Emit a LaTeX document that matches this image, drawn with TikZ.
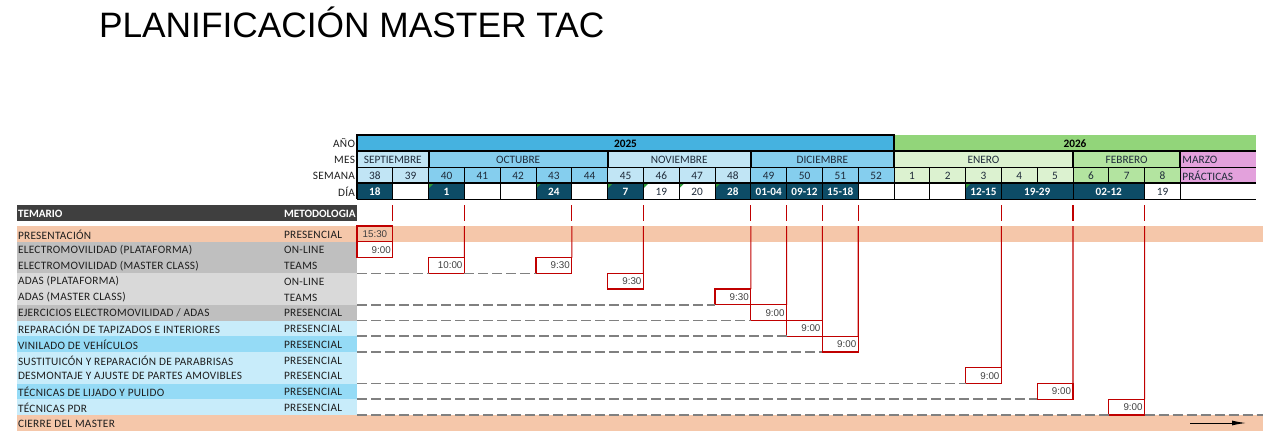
\documentclass[tikz,border=0pt]{standalone}
\usepackage{fontspec}
\setmainfont{Carlito}
\newfontfamily\arialf{Liberation Sans}
\newfontfamily\tabf[LetterSpace=2.5]{Carlito}
\usetikzlibrary{arrows.meta}
\definecolor{peach}{HTML}{F5C7AA}
\definecolor{grayA}{HTML}{BFBFBF}
\definecolor{grayB}{HTML}{D9D9D9}
\definecolor{rlblue}{HTML}{C8ECFA}
\definecolor{rmblue}{HTML}{95DBF6}
\definecolor{hdr}{HTML}{3F3F3F}
\definecolor{cA}{HTML}{45B2E0}
\definecolor{cB}{HTML}{92D57A}
\definecolor{lblue}{HTML}{C1E5F5}
\definecolor{mblue}{HTML}{85CEEE}
\definecolor{vlgreen}{HTML}{DCF2D0}
\definecolor{lgreen}{HTML}{B3E4A0}
\definecolor{pinkm}{HTML}{E3A1DC}
\definecolor{teal}{HTML}{0D4C66}
\definecolor{redc}{HTML}{C00000}
\definecolor{gline}{HTML}{808080}
\definecolor{txt}{HTML}{1E1E1E}
\definecolor{mtxt}{HTML}{1F2B3A}
\definecolor{exgreen}{HTML}{2E9A3A}
\def\gx{357}\def\cw{35.8}\def\ry{226}\def\rh{15.75}
\begin{document}
\begin{tikzpicture}[x=1pt,y=-1pt,
  every node/.style={inner sep=0pt,outer sep=0pt},
  lbl/.style={font=\tabf\fontsize{11.3}{12}\selectfont,text=txt},
  hlbl/.style={font=\fontsize{11.3}{12}\selectfont,text=mtxt},
  hbold/.style={font=\bfseries\fontsize{11.3}{12}\selectfont,text=black},
  wbold/.style={font=\bfseries\fontsize{11.2}{12}\selectfont,text=white},
  tbox/.style={draw=redc,line width=1.1pt,minimum width=35.8pt,minimum height=15.75pt,
    text width=31.8pt,align=right,inner xsep=2pt,inner ysep=0pt,anchor=north west,
    font=\arialf\fontsize{9.8}{11}\selectfont,text=hdr},
  redl/.style={draw=redc,line width=1.1pt},
  gdash/.style={draw=gline,line width=1.6pt,dash pattern=on 10pt off 4pt},
  gdashthin/.style={draw=gline,line width=1pt,dash pattern=on 10pt off 4pt},
  thinl/.style={draw=black,line width=0.7pt},
  midl/.style={draw=black,line width=1.2pt},
  thickl/.style={draw=black,line width=2pt}]
\useasboundingbox (0,0) rectangle (1280,444);

% title
\node[anchor=base west,font=\arialf\fontsize{35.3}{40}\selectfont] (title) at (99,38) {PLANIFICACIÓN MASTER TAC};

% ---------- header grid ----------
\fill[cA] (\gx,135) rectangle (894,151);
\fill[cB] (894,135) rectangle (1256,151);
\node[hbold] (y2025) at ({(357+894)/2},143.5) {2025};
\node[hbold] (y2026) at ({(894+1256)/2},143.5) {2026};

\foreach \a/\b/\col/\name [count=\i] in {0/2/lblue/SEPTIEMBRE,2/7/mblue/OCTUBRE,7/11/lblue/NOVIEMBRE,11/15/mblue/DICIEMBRE,15/20/vlgreen/ENERO,20/23/lgreen/FEBRERO}{
  \fill[\col] ({\gx+\cw*\a},151) rectangle ({\gx+\cw*\b},183);
  \node[hlbl] (mes\i) at ({\gx+\cw*(\a+\b)/2},159.5) {\name};
}
\fill[pinkm] ({\gx+\cw*23},151) rectangle (1256,183);
\node[hlbl,anchor=west] (marzo) at ({\gx+\cw*23+2},159.5) {MARZO};
\node[hlbl,anchor=west] (prac) at ({\gx+\cw*23+2},175.5) {PRÁCTICAS};

\foreach \w [count=\i from 0] in {38,39,40,41,42,43,44,45,46,47,48,49,50,51,52,1,2,3,4,5,6,7,8}{
  \node[hlbl] (sem\i) at ({\gx+\cw*(\i+0.5)},175.5) {\w};
}

% DÍA row
\foreach \k/\s/\t in {0/1/18,2/1/1,5/1/24,7/1/7,10/1/28,11/1/01-04,12/1/09-12,13/1/15-18,17/1/12-15,18/2/19-29,20/2/02-12}{
  \fill[teal] ({\gx+\cw*\k},183) rectangle ({\gx+\cw*(\k+\s)},199);
  \node[wbold] (dia\k) at ({\gx+\cw*(\k+\s/2)},191.5) {\t};
}
\foreach \k/\t in {8/19,9/20,22/19}{
  \node[hlbl] (diaw\k) at ({\gx+\cw*(\k+0.5)},191.5) {\t};
}
\foreach \k in {2,5,7,8,9,10,17}{
  \fill[exgreen] ({\gx+\cw*\k+0.5},184) -- ++(4,0) -- ++(-4,4) -- cycle;
}

% grid lines
\draw[thinl] (\gx,167) -- (1256,167);
\draw[thinl] (\gx,199) -- (1256,199);
\draw[midl] (\gx,151) -- (1256,151);
\draw[thickl] (\gx,183) -- (1256,183);
\foreach \i in {1,...,23}{
  \draw[thinl] ({\gx+\cw*\i},167) -- ({\gx+\cw*\i},183);
}
\foreach \i in {1,...,18,20,22,23}{
  \draw[thinl] ({\gx+\cw*\i},183) -- ({\gx+\cw*\i},199);
}
\foreach \i in {2,7,11,20,23}{
  \draw[thickl] ({\gx+\cw*\i},151) -- ({\gx+\cw*\i},167);
}
\draw[thickl] (\gx,199) -- (\gx,135) -- (894,135) -- (894,167);

% header labels
\node[lbl,anchor=east] (lano) at (355,143.5) {AÑO};
\node[lbl,anchor=east] (lmes) at (355,159.5) {MES};
\node[lbl,anchor=east] (lsem) at (355,175.5) {SEMANA};
\node[lbl,anchor=east] (ldia) at (355,191.5) {DÍA};

% ---------- table ----------
\fill[hdr] (17,205) rectangle (357,221);
\node[wbold,anchor=west] (htem) at (18,213.5) {TEMARIO};
\node[wbold,anchor=west] (hmet) at (284,213.5) {METODOLOGIA};

\fill[peach] (17,{\ry}) rectangle (1263,{\ry+\rh});
\fill[grayA] (17,{\ry+\rh}) rectangle (357,{\ry+3*\rh});
\fill[grayB] (17,{\ry+3*\rh}) rectangle (357,{\ry+5*\rh});
\fill[grayA] (17,{\ry+5*\rh}) rectangle (357,{\ry+6*\rh});
\fill[rlblue] (17,{\ry+6*\rh}) rectangle (357,{\ry+7*\rh});
\fill[rmblue] (17,{\ry+7*\rh}) rectangle (357,{\ry+8*\rh});
\fill[rlblue] (17,{\ry+8*\rh}) rectangle (357,{\ry+10*\rh});
\fill[rmblue] (17,{\ry+10*\rh}) rectangle (357,{\ry+11*\rh});
\fill[rlblue] (17,{\ry+11*\rh}) rectangle (357,{\ry+12*\rh});
\fill[peach] (17,{\ry+12*\rh}) rectangle (1263,{\ry+13*\rh});

\node[lbl,anchor=west] (t0) at (18,{\ry+0.5*\rh+0.5}) {PRESENTACIÓN};
\node[lbl,anchor=west] (t1) at (18,{\ry+1.5*\rh+0.5}) {ELECTROMOVILIDAD (PLATAFORMA)};
\node[lbl,anchor=west] (t2) at (18,{\ry+2.5*\rh+0.5}) {ELECTROMOVILIDAD (MASTER CLASS)};
\node[lbl,anchor=west] (t3) at (18,{\ry+3.5*\rh+0.5}) {ADAS (PLATAFORMA)};
\node[lbl,anchor=west] (t4) at (18,{\ry+4.5*\rh+0.5}) {ADAS (MASTER CLASS)};
\node[lbl,anchor=west] (t5) at (18,{\ry+5.5*\rh+0.5}) {EJERCICIOS ELECTROMOVILIDAD / ADAS};
\node[lbl,anchor=west] (t6) at (18,{\ry+6.5*\rh+0.5}) {REPARACIÓN DE TAPIZADOS E INTERIORES};
\node[lbl,anchor=west] (t7) at (18,{\ry+7.5*\rh+0.5}) {VINILADO DE VEHÍCULOS};
\node[lbl,anchor=west] (t8) at (18,{\ry+8.5*\rh+0.5}) {SUSTITUICÓN Y REPARACIÓN DE PARABRISAS};
\node[lbl,anchor=west] (t9) at (18,{\ry+9.5*\rh+0.5}) {DESMONTAJE Y AJUSTE DE PARTES AMOVIBLES};
\node[lbl,anchor=west] (t10) at (18,{\ry+10.5*\rh+0.5}) {TÉCNICAS DE LIJADO Y PULIDO};
\node[lbl,anchor=west] (t11) at (18,{\ry+11.5*\rh+0.5}) {TÉCNICAS PDR};
\node[lbl,anchor=west] (t12) at (18,{\ry+12.5*\rh+0.5}) {CIERRE DEL MASTER};

\foreach \r/\m in {0/PRESENCIAL,1/ON-LINE,2/TEAMS,3/ON-LINE,4/TEAMS,5/PRESENCIAL,6/PRESENCIAL,7/PRESENCIAL,8/PRESENCIAL,9/PRESENCIAL,10/PRESENCIAL,11/PRESENCIAL}{
  \node[lbl,anchor=west] (m\r) at (284,{\ry+(\r+0.5)*\rh+0.5}) {\m};
}

% ---------- schedule boxes ----------
\node[tbox,align=center] (b1) at ({\gx},{\ry}) {15:30};
\node[tbox] (b2) at ({\gx},{\ry+\rh}) {9:00};
\node[tbox] (b3) at ({\gx+\cw*2},{\ry+2*\rh}) {10:00};
\node[tbox] (b4) at ({\gx+\cw*5},{\ry+2*\rh}) {9:30};
\node[tbox] (b5) at ({\gx+\cw*7},{\ry+3*\rh}) {9:30};
\node[tbox] (b6) at ({\gx+\cw*10},{\ry+4*\rh}) {9:30};
\node[tbox] (b7) at ({\gx+\cw*11},{\ry+5*\rh}) {9:00};
\node[tbox] (b8) at ({\gx+\cw*12},{\ry+6*\rh}) {9:00};
\node[tbox] (b9) at ({\gx+\cw*13},{\ry+7*\rh}) {9:00};
\node[tbox] (b10) at ({\gx+\cw*17},{\ry+9*\rh}) {9:00};
\node[tbox] (b11) at ({\gx+\cw*19},{\ry+10*\rh}) {9:00};
\node[tbox] (b12) at ({\gx+\cw*21},{\ry+11*\rh}) {9:00};

% ticks above the table
\foreach \k in {1,3,6,8,11,12,13,14,18,20,22}{
  \coordinate (ka\k) at ({\gx+\cw*\k},205);
  \coordinate (kb\k) at ({\gx+\cw*\k},221);
  \draw[redl] (ka\k) -- (kb\k);
}
% vertical connectors
\foreach \b/\k in {b3/3,b4/6,b5/8,b6/11,b7/12,b8/13,b9/14,b10/18,b11/20,b12/22}{
  \coordinate (top\b) at ({\gx+\cw*\k},{\ry});
  \draw[redl] (top\b) -- (\b.north east);
}

% dashed lead lines
\coordinate (d2) at (\gx,{\ry+3*\rh});
\draw[gdashthin] (d2) -- (b3.south west);
\draw[gdashthin] (b3.south east) -- (b4.south west);
\foreach \b/\r in {b6/5,b7/6,b8/7,b9/8,b10/10,b11/11,b12/12}{
  \coordinate (d\b) at (\gx,{\ry+\r*\rh});
  \draw[gdash] (d\b) -- (\b.south west);
}
\coordinate (dend) at (1263,{\ry+12*\rh});
\draw[gdash] (b12.south east) -- (dend);

% arrow
\coordinate (a1) at (1190,423);
\coordinate (a2) at (1246,423);
\draw[-{Latex[length=14pt,width=5pt]},line width=1pt] (a1) -- (a2);
\end{tikzpicture}
\end{document}
